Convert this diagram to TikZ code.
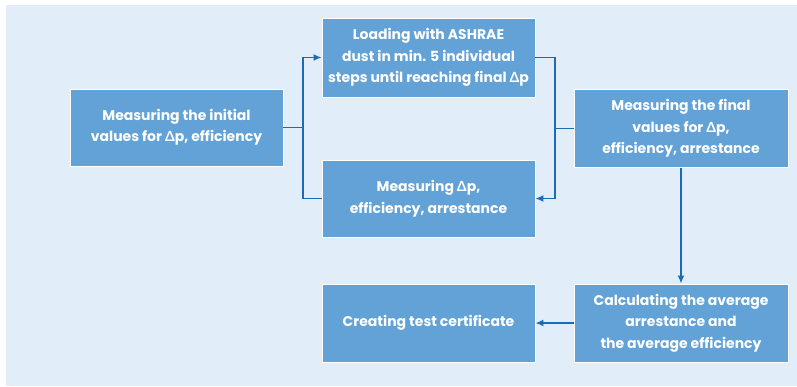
\documentclass[tikz,border=0pt]{standalone}
\usepackage{fontspec}
\setmainfont{Poppins}
\newfontfamily\gkfont{Lato}
\newcommand{\Dlt}{{\gkfont\bfseries Δ}}
\usetikzlibrary{arrows.meta,calc}
\definecolor{bgc}{HTML}{E1EDF8}
\definecolor{boxc}{HTML}{62A2D7}
\definecolor{linec}{HTML}{1A6DB4}
\tikzset{
  stepbox/.style={rectangle, fill=boxc, draw=white, line width=0.8pt, text=white,
    minimum width=213pt, minimum height=77pt, align=center, inner sep=2pt,
    font=\fontsize{14}{21.5}\selectfont\bfseries},
  conn/.style={draw=linec, line width=1.8pt},
  arr/.style={conn, -{Latex[length=8pt,width=7pt]}}
}
\begin{document}
\begin{tikzpicture}[x=1pt,y=-1pt]
\useasboundingbox (0,0) rectangle (797,386);
\fill[bgc] (6,5) rectangle (797,386);
\node[stepbox] (init) at (176.5,127.5) {Measuring the initial\\values for \Dlt p, efficiency};
\node[stepbox, minimum height=79pt] (load) at (428.5,57.5) {Loading with ASHRAE\\dust in min. 5 individual\\steps until reaching final \Dlt p};
\node[stepbox] (meas) at (428.5,198.5) {Measuring \Dlt p,\\efficiency, arrestance};
\node[stepbox, minimum width=214pt, minimum height=78pt] (final) at (681,128.5) {Measuring the final\\values for \Dlt p,\\efficiency, arrestance};
\node[stepbox, minimum width=214pt, minimum height=78pt] (calc) at (681,323) {Calculating the average\\arrestance and\\the average efficiency};
\node[stepbox, minimum height=78pt] (cert) at (428.5,323) {Creating test certificate};
\coordinate (jl) at (303,127.5);
\coordinate (jr) at (555,128.5);
\draw[conn] (init.east) -- (jl);
\draw[arr] (jl) |- (load.west);
\draw[conn] (jl) |- (meas.west);
\draw[arr] (load.east) -| (jr) |- (meas.east);
\draw[conn] (jr) -- (final.west);
\draw[arr] (final.south) -- (calc.north);
\draw[arr] (calc.west) -- (cert.east);
\end{tikzpicture}
\end{document}
